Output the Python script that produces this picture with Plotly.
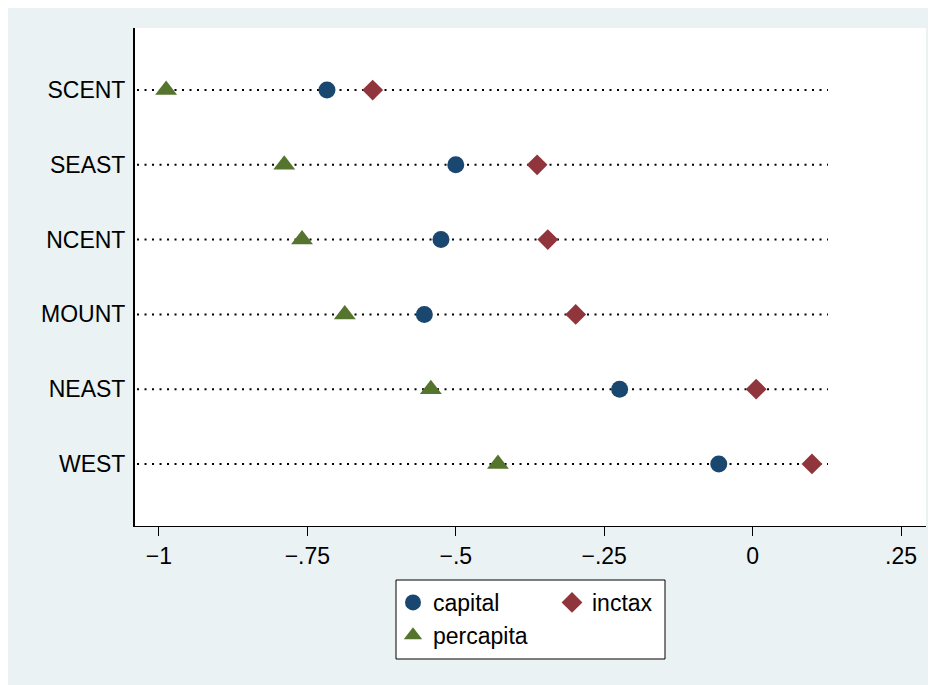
import plotly.graph_objects as go

regions = ["SCENT", "SEAST", "NCENT", "MOUNT", "NEAST", "WEST"]
capital = [-0.717, -0.500, -0.525, -0.553, -0.224, -0.057]
inctax = [-0.640, -0.363, -0.345, -0.298, 0.006, 0.100]
percapita = [-0.988, -0.789, -0.759, -0.687, -0.542, -0.429]

tick_vals = [-1, -0.75, -0.5, -0.25, 0, 0.25]
tick_text = ["\u22121", "\u2212.75", "\u2212.5", "\u2212.25", "0", ".25"]

line_start, line_end = -1.037, 0.127

# page body has an 8px margin; work in reference pixel coords and shift
OFF = 8
W, H = 936 - OFF, 685 - OFF
L, T = 135 - OFF, 28 - OFF
R = W - (926 - OFF)
B = H - (526 - OFF)
pw, ph = W - L - R, H - T - B


def px(X):
    return (X - OFF - L) / pw


def py(Y):
    return (H - B - (Y - OFF)) / ph


FONT = "Liberation Sans, Arial, sans-serif"
NAVY, MAROON, GREEN = "#1A476F", "#90353B", "#55752F"
BG = "#EAF2F3"
FS = 23

fig = go.Figure()

for r in regions:
    fig.add_trace(go.Scatter(
        x=[line_start, line_end], y=[r, r], mode="lines",
        line=dict(color="black", width=2, dash="2px,5.5px"),
        showlegend=False, hoverinfo="skip"))

fig.add_trace(go.Scatter(x=capital, y=regions, mode="markers", name="capital",
                         marker=dict(symbol="circle", size=17, color=NAVY), legend="legend"))
fig.add_trace(go.Scatter(x=inctax, y=regions, mode="markers", name="inctax",
                         marker=dict(symbol="diamond", size=16, color=MAROON), legend="legend2"))
fig.add_trace(go.Scatter(x=percapita, y=regions, mode="markers", name="percapita",
                         marker=dict(symbol="triangle-up", size=19, color=GREEN), legend="legend"))

fig.update_layout(
    width=W, height=H,
    margin=dict(l=L, r=R, t=T, b=B, autoexpand=False),
    paper_bgcolor=BG,
    plot_bgcolor="white",
    font=dict(family=FONT, size=FS, color="black"),
    xaxis=dict(
        range=[-1.0404, 0.2921], tickvals=tick_vals, ticktext=tick_text,
        ticks="outside", ticklen=9, tickwidth=1, tickcolor="black",
        showgrid=False, zeroline=False, showline=True, linecolor="black", linewidth=1,
        tickfont=dict(size=FS), fixedrange=True),
    yaxis=dict(
        type="category", categoryorder="array", categoryarray=regions[::-1],
        range=[-0.83, 5.83], showgrid=False, zeroline=False,
        showline=True, linecolor="black", linewidth=2, ticks="",
        ticklabelstandoff=3, tickfont=dict(size=FS), fixedrange=True),
    legend=dict(x=px(393), y=py(581), xanchor="left", yanchor="top",
                bgcolor="rgba(0,0,0,0)", borderwidth=0, font=dict(size=FS),
                tracegroupgap=0, itemsizing="trace"),
    legend2=dict(x=px(552), y=py(581), xanchor="left", yanchor="top",
                 bgcolor="rgba(0,0,0,0)", borderwidth=0, font=dict(size=FS),
                 itemsizing="trace"),
    shapes=[
        dict(type="rect", xref="paper", yref="paper", x0=px(396), x1=px(665),
             y0=py(659), y1=py(580), fillcolor="white",
             line=dict(color="black", width=1), layer="below"),
    ],
)

fig.write_html("out.html")
